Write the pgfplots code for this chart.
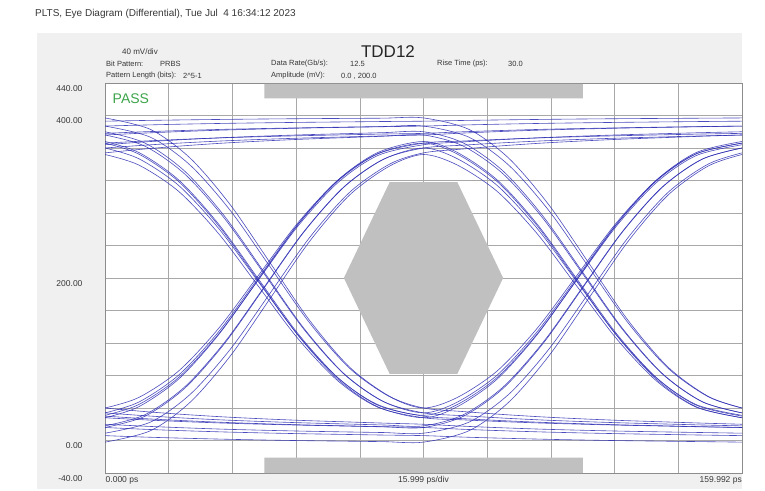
\documentclass[border=0pt]{standalone}
\usepackage{fontspec}
\setmainfont{Liberation Sans}
\usepackage{pgfplots}
\pgfplotsset{compat=1.18}
\definecolor{panel}{RGB}{240,240,240}
\definecolor{maskc}{RGB}{192,192,192}
\definecolor{trace}{RGB}{45,45,180}
\definecolor{gridc}{RGB}{168,168,168}
\definecolor{txt}{RGB}{55,55,55}
\definecolor{passg}{RGB}{60,165,75}
\pgfplotsset{tr/.style={trace, line width=0.6pt, smooth, tension=0.5, no marks, opacity=0.85}}
\newcommand{\hs}{\fontsize{7.5}{9}\selectfont}
\begin{document}
\begin{tikzpicture}
\path[use as bounding box] (0pt,0pt) rectangle (765pt,490pt);
\fill[panel] (37pt,1pt) rectangle (742pt,457pt);
\node[anchor=west, font=\fontsize{10}{12}\selectfont, text=txt, inner sep=0pt] at (35pt,476pt) {PLTS, Eye Diagram (Differential), Tue Jul\ \ 4 16:34:12 2023};
\node[anchor=west, font=\fontsize{8}{10}\selectfont, text=txt, inner sep=0pt] at (122pt,438pt) {40 mV/div};
\node[anchor=center, font=\fontsize{17}{20}\selectfont, text=black!85, inner sep=0pt] at (388pt,438pt) {TDD12};
\node[anchor=west, font=\hs, text=txt, inner sep=0pt] at (106pt,426pt) {Bit Pattern:};
\node[anchor=west, font=\hs, text=txt, inner sep=0pt] at (160pt,426pt) {PRBS};
\node[anchor=west, font=\hs, text=txt, inner sep=0pt] at (106pt,414pt) {Pattern Length (bits):};
\node[anchor=west, font=\hs, text=txt, inner sep=0pt] at (183pt,414pt) {2\textasciicircum 5-1};
\node[anchor=west, font=\hs, text=txt, inner sep=0pt] at (271pt,426pt) {Data Rate(Gb/s):};
\node[anchor=west, font=\hs, text=txt, inner sep=0pt] at (350pt,426pt) {12.5};
\node[anchor=west, font=\hs, text=txt, inner sep=0pt] at (271pt,414pt) {Amplitude (mV):};
\node[anchor=west, font=\hs, text=txt, inner sep=0pt] at (341pt,414pt) {0.0 , 200.0};
\node[anchor=west, font=\hs, text=txt, inner sep=0pt] at (437pt,426pt) {Rise Time (ps):};
\node[anchor=west, font=\hs, text=txt, inner sep=0pt] at (508pt,426pt) {30.0};
\begin{axis}[
  at={(105pt,17pt)}, anchor=south west, scale only axis,
  width=637pt, height=390pt,
  xmin=0, xmax=160, ymin=-40, ymax=440,
  xtick={0,16,...,160}, ytick={-40,0,...,440},
  xticklabels={},
  yticklabels={-40.00,0.00,{},{},{},{},200.00,{},{},{},{},400.00,440.00},
  yticklabel style={font=\fontsize{8.5}{10}\selectfont, text=txt, xshift=-19pt, yshift=-5.5pt},
  major tick length=0pt,
  grid=major, grid style={gridc, line width=0.6pt},
  axis line style={black!45, line width=0.6pt},
  axis background/.style={fill=white},
]
\addplot[fill=maskc, draw=none, no marks] coordinates {(40,421) (120,421) (120,439) (40,439) (40,421)};
\addplot[fill=maskc, draw=none, no marks] coordinates {(40,-40) (120,-40) (120,-21) (40,-21) (40,-40)};
\addplot[fill=maskc, draw=none, no marks] coordinates {(60,200) (71.5,318) (88.5,318) (100,200) (88.5,82) (71.5,82) (60,200)};
% traces
\addplot[tr] coordinates {(0,360)(10,363.5)(20,366.4)(30,368.8)(40,370.7)(50,372.3)(60,373.6)(70,374.9)(80,376)(90,378.4)(100,380.4)(110,382.1)(120,383.4)(130,384.5)(140,385.4)(150,386.2)(160,387)};
\addplot[tr] coordinates {(0,376)(10,378.4)(20,380.4)(30,382.1)(40,383.4)(50,384.5)(60,385.4)(70,386.2)(80,387)(90,388.3)(100,389.4)(110,390.3)(120,391)(130,391.6)(140,392.1)(150,392.6)(160,393)};
\addplot[tr] coordinates {(0,387)(10,388.3)(20,389.4)(30,390.3)(40,391)(50,391.6)(60,392.1)(70,392.6)(80,393)(90,393.9)(100,394.6)(110,395.2)(120,395.7)(130,396.1)(140,396.4)(150,396.7)(160,397)};
\addplot[tr] coordinates {(0,393)(10,393.9)(20,394.6)(30,395.2)(40,395.7)(50,396.1)(60,396.4)(70,396.7)(80,397)(91.5,382.7)(101.5,347)(111.5,289.9)(121.5,218.5)(131.5,147.1)(141.5,90)(151.5,54.3)(160,40)};
\addplot[tr] coordinates {(0,397)(11.5,382.7)(21.5,347)(31.5,289.9)(41.5,218.5)(51.5,147.1)(61.5,90)(71.5,54.3)(80,40)(90,35.6)(100,32)(110,29)(120,26.6)(130,24.6)(140,23)(150,21.4)(160,20)};
\addplot[tr] coordinates {(0,40)(10,35.6)(20,32)(30,29)(40,26.6)(50,24.6)(60,23)(70,21.4)(80,20)(90,17.6)(100,15.6)(110,13.9)(120,12.6)(130,11.5)(140,10.6)(150,9.8)(160,9)};
\addplot[tr] coordinates {(0,20)(10,17.6)(20,15.6)(30,13.9)(40,12.6)(50,11.5)(60,10.6)(70,9.8)(80,9)(91.5,22.8)(101.5,57.3)(111.5,112.5)(121.5,181.5)(131.5,250.5)(141.5,305.7)(151.5,340.2)(160,354)};
\addplot[tr] coordinates {(0,9)(11.5,22.8)(21.5,57.3)(31.5,112.5)(41.5,181.5)(51.5,250.5)(61.5,305.7)(71.5,340.2)(80,354)(90,358.8)(100,362.8)(110,366.1)(120,368.7)(130,370.9)(140,372.7)(150,374.5)(160,376)};
\addplot[tr] coordinates {(0,354)(10,358.8)(20,362.8)(30,366.1)(40,368.7)(50,370.9)(60,372.7)(70,374.5)(80,376)(90,362.3)(100,328.1)(110,273.4)(120,205)(130,136.6)(140,81.9)(150,47.7)(160,34)};
\addplot[tr] coordinates {(0,376)(10,362.3)(20,328.1)(30,273.4)(40,205)(50,136.6)(60,81.9)(70,47.7)(80,34)(88.5,47.3)(98.5,80.5)(108.5,133.6)(118.5,200)(128.5,266.4)(138.5,319.5)(148.5,352.7)(160,366)};
\addplot[tr] coordinates {(0,34)(8.5,47.3)(18.5,80.5)(28.5,133.6)(38.5,200)(48.5,266.4)(58.5,319.5)(68.5,352.7)(80,366)(90,368.6)(100,370.8)(110,372.6)(120,374)(130,375.2)(140,376.2)(150,377.2)(160,378)};
\addplot[tr] coordinates {(0,366)(10,368.6)(20,370.8)(30,372.6)(40,374)(50,375.2)(60,376.2)(70,377.2)(80,378)(90,380)(100,381.6)(110,383)(120,384)(130,384.9)(140,385.7)(150,386.4)(160,387)};
\addplot[tr] coordinates {(0,378)(10,380)(20,381.6)(30,383)(40,384)(50,384.9)(60,385.7)(70,386.4)(80,387)(91.5,373.1)(101.5,338.4)(111.5,282.9)(121.5,213.5)(131.5,144.1)(141.5,88.6)(151.5,53.9)(160,40)};
\addplot[tr] coordinates {(0,387)(11.5,373.1)(21.5,338.4)(31.5,282.9)(41.5,213.5)(51.5,144.1)(61.5,88.6)(71.5,53.9)(80,40)(88.5,53)(98.5,85.6)(108.5,137.8)(118.5,203)(128.5,268.2)(138.5,320.4)(148.5,353)(160,366)};
\addplot[tr] coordinates {(0,40)(8.5,53)(18.5,85.6)(28.5,137.8)(38.5,203)(48.5,268.2)(58.5,320.4)(68.5,353)(80,366)(88.5,352.5)(98.5,318.7)(108.5,264.6)(118.5,197)(128.5,129.4)(138.5,75.3)(148.5,41.5)(160,28)};
\addplot[tr] coordinates {(0,366)(8.5,352.5)(18.5,318.7)(28.5,264.6)(38.5,197)(48.5,129.4)(58.5,75.3)(68.5,41.5)(80,28)(88.5,41.6)(98.5,75.6)(108.5,130)(118.5,198)(128.5,266)(138.5,320.4)(148.5,354.4)(160,368)};
\addplot[tr] coordinates {(0,28)(8.5,41.6)(18.5,75.6)(28.5,130)(38.5,198)(48.5,266)(58.5,320.4)(68.5,354.4)(80,368)(88.5,354.5)(98.5,320.7)(108.5,266.6)(118.5,199)(128.5,131.4)(138.5,77.3)(148.5,43.5)(160,30)};
\addplot[tr] coordinates {(0,368)(8.5,354.5)(18.5,320.7)(28.5,266.6)(38.5,199)(48.5,131.4)(58.5,77.3)(68.5,43.5)(80,30)(90,26.9)(100,24.4)(110,22.3)(120,20.6)(130,19.2)(140,18.1)(150,17)(160,16)};
\addplot[tr] coordinates {(0,30)(10,26.9)(20,24.4)(30,22.3)(40,20.6)(50,19.2)(60,18.1)(70,17)(80,16)(90,13.8)(100,12)(110,10.5)(120,9.3)(130,8.3)(140,7.5)(150,6.7)(160,6)};
\addplot[tr] coordinates {(0,16)(10,13.8)(20,12)(30,10.5)(40,9.3)(50,8.3)(60,7.5)(70,6.7)(80,6)(90,4.2)(100,2.8)(110,1.6)(120,0.6)(130,-0.2)(140,-0.8)(150,-1.4)(160,-2)};
\addplot[tr] coordinates {(0,6)(10,4.2)(20,2.8)(30,1.6)(40,0.6)(50,-0.2)(60,-0.8)(70,-1.4)(80,-2)(91.5,12.2)(101.5,47.6)(111.5,104.2)(121.5,175)(131.5,245.8)(141.5,302.4)(151.5,337.8)(160,352)};
\addplot[tr] coordinates {(0,-2)(11.5,12.2)(21.5,47.6)(31.5,104.2)(41.5,175)(51.5,245.8)(61.5,302.4)(71.5,337.8)(80,352)(88.5,339)(98.5,306.6)(108.5,254.8)(118.5,190)(128.5,125.2)(138.5,73.4)(148.5,41)(160,28)};
\addplot[tr] coordinates {(0,352)(8.5,339)(18.5,306.6)(28.5,254.8)(38.5,190)(48.5,125.2)(58.5,73.4)(68.5,41)(80,28)(90,25.4)(100,23.2)(110,21.4)(120,20)(130,18.8)(140,17.8)(150,16.8)(160,16)};
\addplot[tr] coordinates {(0,28)(10,25.4)(20,23.2)(30,21.4)(40,20)(50,18.8)(60,17.8)(70,16.8)(80,16)(90,29.8)(100,64.2)(110,119.2)(120,188)(130,256.8)(140,311.8)(150,346.2)(160,360)};
\addplot[tr] coordinates {(0,16)(10,29.8)(20,64.2)(30,119.2)(40,188)(50,256.8)(60,311.8)(70,346.2)(80,360)(88.5,346.8)(98.5,313.9)(108.5,261.3)(118.5,195.5)(128.5,129.7)(138.5,77.1)(148.5,44.2)(160,31)};
\addplot[tr] coordinates {(0,360)(8.5,346.8)(18.5,313.9)(28.5,261.3)(38.5,195.5)(48.5,129.7)(58.5,77.1)(68.5,44.2)(80,31)(88.5,44.3)(98.5,77.6)(108.5,130.9)(118.5,197.5)(128.5,264.1)(138.5,317.4)(148.5,350.7)(160,364)};
\addplot[tr] coordinates {(0,31)(8.5,44.3)(18.5,77.6)(28.5,130.9)(38.5,197.5)(48.5,264.1)(58.5,317.4)(68.5,350.7)(80,364)(90,367.5)(100,370.4)(110,372.8)(120,374.7)(130,376.3)(140,377.6)(150,378.9)(160,380)};
\addplot[tr] coordinates {(0,364)(10,367.5)(20,370.4)(30,372.8)(40,374.7)(50,376.3)(60,377.6)(70,378.9)(80,380)(90,366.2)(100,331.6)(110,276.2)(120,207)(130,137.8)(140,82.4)(150,47.8)(160,34)};
\addplot[tr] coordinates {(0,380)(10,366.2)(20,331.6)(30,276.2)(40,207)(50,137.8)(60,82.4)(70,47.8)(80,34)(90,30.5)(100,27.6)(110,25.2)(120,23.3)(130,21.7)(140,20.4)(150,19.1)(160,18)};
\addplot[tr] coordinates {(0,34)(10,30.5)(20,27.6)(30,25.2)(40,23.3)(50,21.7)(60,20.4)(70,19.1)(80,18)(90,31.7)(100,65.9)(110,120.6)(120,189)(130,257.4)(140,312.1)(150,346.3)(160,360)};
\addplot[tr] coordinates {(0,18)(10,31.7)(20,65.9)(30,120.6)(40,189)(50,257.4)(60,312.1)(70,346.3)(80,360)(90,363.5)(100,366.4)(110,368.8)(120,370.7)(130,372.3)(140,373.6)(150,374.9)(160,376)};
\end{axis}
\node[anchor=west, font=\fontsize{14}{16}\selectfont, text=passg, inner sep=0pt] at (112.5pt,391pt) {PASS};
\node[anchor=west, font=\fontsize{8.5}{10}\selectfont, text=txt, inner sep=0pt] at (105.5pt,10pt) {0.000 ps};
\node[anchor=center, font=\fontsize{8.5}{10}\selectfont, text=txt, inner sep=0pt] at (423.5pt,10pt) {15.999 ps/div};
\node[anchor=east, font=\fontsize{8.5}{10}\selectfont, text=txt, inner sep=0pt] at (742pt,10pt) {159.992 ps};
\end{tikzpicture}
\end{document}
